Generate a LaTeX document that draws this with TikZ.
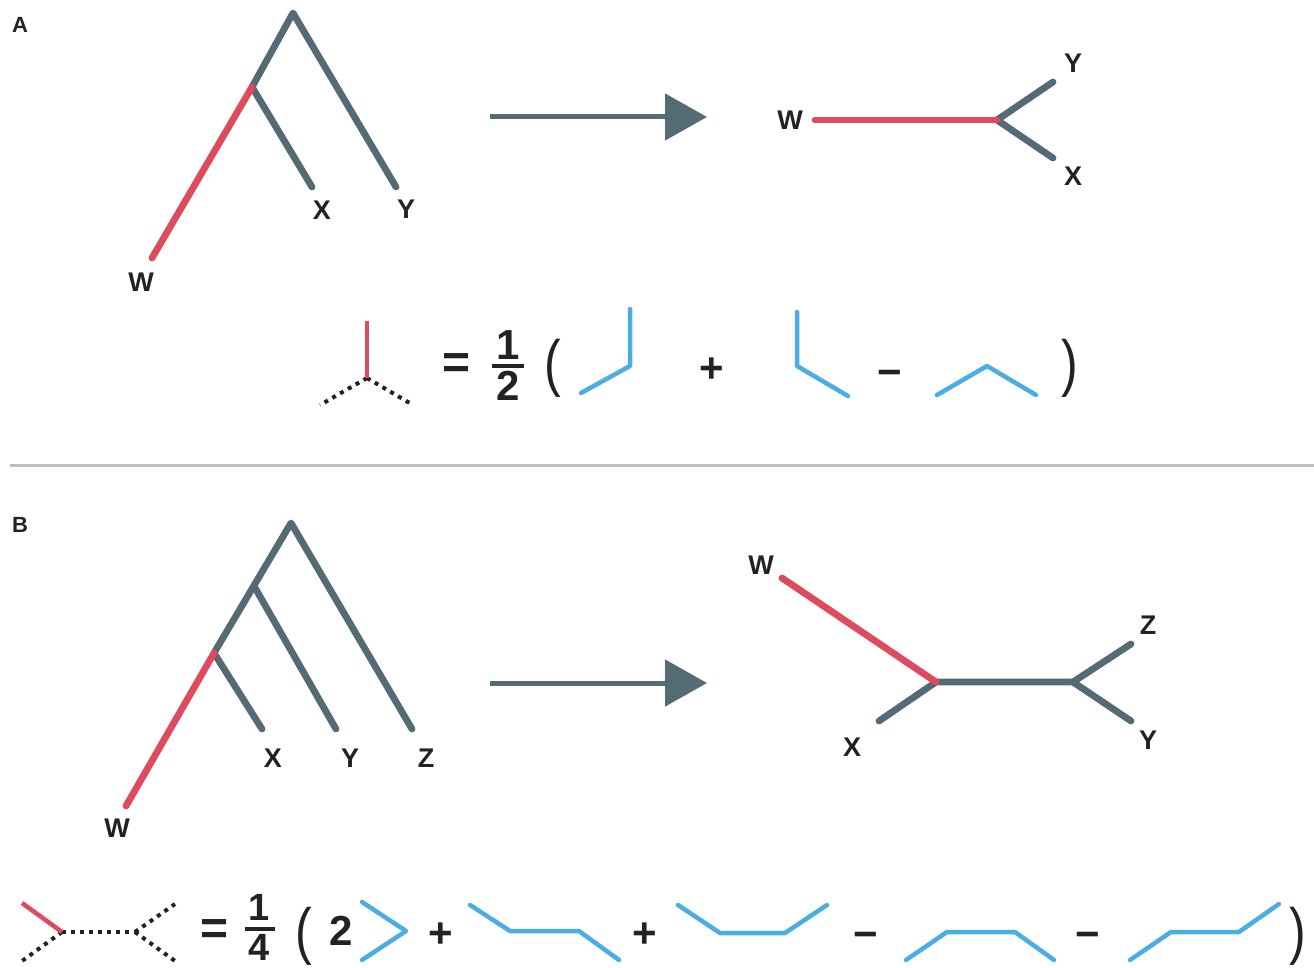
\documentclass[tikz,border=0pt]{standalone}
\usepackage{fontspec}
\setmainfont{Liberation Sans}
\usetikzlibrary{arrows.meta}
\definecolor{tgray}{RGB}{84,106,116}
\definecolor{tred}{RGB}{222,74,94}
\definecolor{tblue}{RGB}{74,174,228}
\definecolor{ink}{RGB}{34,34,34}
\definecolor{rulegray}{RGB}{190,190,190}
\begin{document}
\begin{tikzpicture}[x=1pt,y=-1pt,
 br/.style={line width=6.8pt, line cap=round, line join=round, draw=tgray},
 rbr/.style={line width=6.8pt, line cap=round, draw=tred},
 blu/.style={line width=4.5pt, line cap=round, line join=round, draw=tblue},
 dots/.style={line width=4pt, draw=ink, dash pattern=on 4pt off 5pt},
 redeq/.style={line width=4.5pt, draw=tred},
 lab/.style={font=\fontsize{27}{27}\selectfont\bfseries, text=ink, inner sep=0pt},
 plab/.style={font=\fontsize{22}{22}\selectfont\bfseries, text=ink, inner sep=0pt},
 op/.style={font=\fontsize{42}{42}\selectfont\bfseries, text=ink, inner sep=0pt},
 opsm/.style={font=\fontsize{38}{38}\selectfont\bfseries, text=ink, inner sep=0pt},
 eqs/.style={font=\fontsize{48}{48}\selectfont\bfseries, text=ink, inner sep=0pt},
 par/.style={font=\fontsize{50}{50}\selectfont, text=ink, inner sep=0pt, yscale=1.25, transform shape},
 fbar/.style={line width=4pt, draw=ink},
 arr/.style={line width=5pt, draw=tgray, -{Triangle[length=42pt,width=46pt]}},
]
\useasboundingbox (0,0) rectangle (1314,968);

% ---------- Panel A ----------
\node[plab] (pA) at (20,25) {A};
\coordinate (aR) at (293,13);
\coordinate (aN) at (252,87);
\coordinate (aW) at (152,258);
\coordinate (aX) at (312,187);
\coordinate (aY) at (396,187);
\draw[br] (aN) -- (aR) -- (aY);
\draw[br] (aN) -- (aX);
\draw[rbr] (aN) -- (aW);
\node[lab] (laX) at (322,210) {X};
\node[lab] (laY) at (406,209) {Y};
\node[lab] (laW) at (141,282) {W};

\coordinate (aA1) at (490,117);
\coordinate (aA2) at (707,117);
\draw[arr] (aA1) -- (aA2);

\coordinate (uaW) at (815,120);
\coordinate (uaC) at (997,120);
\coordinate (uaY) at (1053,82);
\coordinate (uaX) at (1053,158);
\draw[br] (uaY) -- (uaC) -- (uaX);
\draw[rbr] (uaW) -- (uaC);
\node[lab] (luaW) at (790,120) {W};
\node[lab] (luaY) at (1073,63) {Y};
\node[lab] (luaX) at (1073,176) {X};

% equation A
\coordinate (eaT) at (367,321);
\coordinate (eaC) at (367,378);
\coordinate (eaL) at (320,405);
\coordinate (eaR) at (413,405);
\draw[dots] (eaC) -- (eaL);
\draw[dots] (eaC) -- (eaR);
\draw[redeq] (eaT) -- (eaC);
\node[eqs] (eqA) at (457,366) {=};
\node[op] (naA) at (508,345) {1};
\node[op] (daA) at (508,386) {2};
\coordinate (fbA1) at (492,366);
\coordinate (fbA2) at (524,366);
\draw[fbar] (fbA1) -- (fbA2);
\node[par] (lpA) at (553,368) {(};
\coordinate (b1a) at (581,393);
\coordinate (b1b) at (630,366);
\coordinate (b1c) at (630,309);
\draw[blu] (b1a) -- (b1b) -- (b1c);
\node[op] (plA) at (712,370) {+};
\coordinate (b2a) at (797,312);
\coordinate (b2b) at (797,366);
\coordinate (b2c) at (848,396);
\draw[blu] (b2a) -- (b2b) -- (b2c);
\node[op] (miA) at (890,378) {−};
\coordinate (b3a) at (937,395);
\coordinate (b3b) at (987,366);
\coordinate (b3c) at (1036,395);
\draw[blu] (b3a) -- (b3b) -- (b3c);
\node[par] (rpA) at (1070,368) {)};

% divider
\coordinate (dv1) at (10,465);
\coordinate (dv2) at (1314,465);
\draw[line width=3pt, draw=rulegray] (dv1) -- (dv2);

% ---------- Panel B ----------
\node[plab] (pB) at (20,525) {B};
\coordinate (bR) at (291,523);
\coordinate (bN1) at (254,586);
\coordinate (bN2) at (214,653);
\coordinate (bW) at (126,806);
\coordinate (bX) at (262,729);
\coordinate (bY) at (336,729);
\coordinate (bZ) at (412,729);
\draw[br] (bN2) -- (bR) -- (bZ);
\draw[br] (bN1) -- (bY);
\draw[br] (bN2) -- (bX);
\draw[rbr] (bN2) -- (bW);
\node[lab] (lbX) at (273,758) {X};
\node[lab] (lbY) at (350,758) {Y};
\node[lab] (lbZ) at (426,758) {Z};
\node[lab] (lbW) at (117,828) {W};

\coordinate (bA1) at (490,683);
\coordinate (bA2) at (707,683);
\draw[arr] (bA1) -- (bA2);

\coordinate (ubW) at (782,578);
\coordinate (ubC) at (936,682);
\coordinate (ubD) at (1073,682);
\coordinate (ubX) at (879,721);
\coordinate (ubZ) at (1131,644);
\coordinate (ubY) at (1131,721);
\draw[br] (ubX) -- (ubC) -- (ubD);
\draw[br] (ubZ) -- (ubD) -- (ubY);
\draw[rbr] (ubW) -- (ubC);
\node[lab] (lubW) at (761,565) {W};
\node[lab] (lubX) at (852,747) {X};
\node[lab] (lubZ) at (1148,625) {Z};
\node[lab] (lubY) at (1148,740) {Y};

% equation B
\coordinate (ebR) at (22,903);
\coordinate (ebC) at (62,932);
\coordinate (ebL) at (22,961);
\coordinate (ebD) at (135,932);
\coordinate (ebU) at (175,904);
\coordinate (ebB) at (175,961);
\draw[dots] (ebC) -- (ebL);
\draw[dots] (ebC) -- (ebD);
\draw[dots] (ebD) -- (ebU);
\draw[dots] (ebD) -- (ebB);
\draw[redeq] (ebR) -- (ebC);
\node[eqs] (eqB) at (215,932) {=};
\node[opsm] (nbB) at (259,907) {1};
\node[opsm] (dbB) at (259,947) {4};
\coordinate (fbB1) at (245,929);
\coordinate (fbB2) at (275,929);
\draw[fbar] (fbB1) -- (fbB2);
\node[par] (lpB) at (304,936) {(};
\node[op] (twoB) at (341,931) {2};
\coordinate (c1a) at (362,902);
\coordinate (c1b) at (406,931);
\coordinate (c1c) at (362,960);
\draw[blu] (c1a) -- (c1b) -- (c1c);
\node[op] (pl1B) at (441,935) {+};
\coordinate (c2a) at (470,905);
\coordinate (c2b) at (510,931);
\coordinate (c2c) at (579,931);
\coordinate (c2d) at (619,960);
\draw[blu] (c2a) -- (c2b) -- (c2c) -- (c2d);
\node[op] (pl2B) at (645,935) {+};
\coordinate (c3a) at (678,905);
\coordinate (c3b) at (720,933);
\coordinate (c3c) at (785,933);
\coordinate (c3d) at (827,905);
\draw[blu] (c3a) -- (c3b) -- (c3c) -- (c3d);
\node[op] (mi1B) at (866,940) {−};
\coordinate (c4a) at (906,960);
\coordinate (c4b) at (947,932);
\coordinate (c4c) at (1015,932);
\coordinate (c4d) at (1054,960);
\draw[blu] (c4a) -- (c4b) -- (c4c) -- (c4d);
\node[op] (mi2B) at (1088,940) {−};
\coordinate (c5a) at (1130,960);
\coordinate (c5b) at (1171,932);
\coordinate (c5c) at (1239,932);
\coordinate (c5d) at (1279,904);
\draw[blu] (c5a) -- (c5b) -- (c5c) -- (c5d);
\node[par] (rpB) at (1298,936) {)};
\end{tikzpicture}
\end{document}
